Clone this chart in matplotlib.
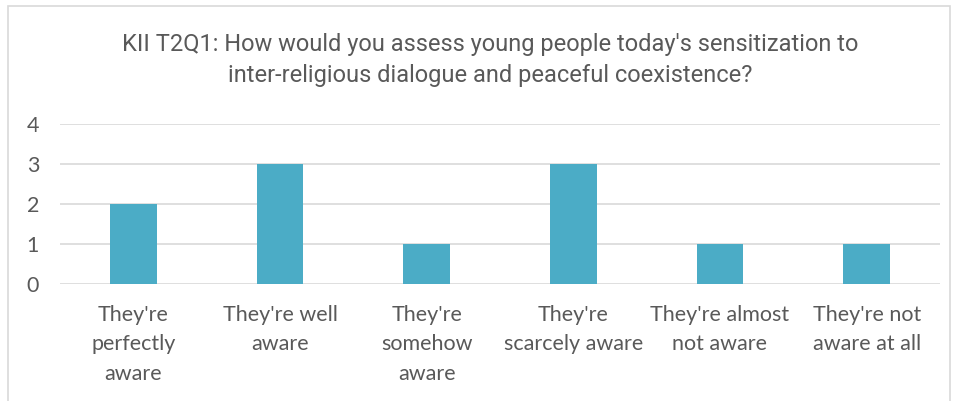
import matplotlib
matplotlib.use("Agg")
import matplotlib.pyplot as plt
from matplotlib.patches import Rectangle

categories = [
    "They're\nperfectly\naware",
    "They're well\naware",
    "They're\nsomehow\naware",
    "They're\nscarcely aware",
    "They're almost\nnot aware",
    "They're not\naware at all",
]
counts = [2, 3, 1, 3, 1, 1]
yticks = [0, 1, 2, 3, 4]
title = ("KII T2Q1: How would you assess young people today's sensitization to\n"
         "inter-religious dialogue and peaceful coexistence?")

W, H = 956, 401
fig = plt.figure(figsize=(W / 100, H / 100), dpi=100)
fig.patch.set_facecolor("white")

# chart frame
fig.patches.append(Rectangle((8 / W, -0.05), (950 - 8) / W, 1.05 - 6 / H,
                             transform=fig.transFigure, fill=False,
                             edgecolor="#D9D9D9", linewidth=1.2))

ax = fig.add_axes([60 / W, (H - 284) / H, 880 / W, 160 / H])
x = range(len(categories))
ax.bar(x, counts, width=0.32, color="#4BACC6", zorder=3)
ax.set_xlim(-0.5, len(categories) - 0.5)
ax.set_ylim(0, 4)
ax.set_yticks(yticks)
ax.set_yticklabels([str(v) for v in yticks])
ax.set_xticks(list(x))
ax.set_xticklabels(categories, linespacing=1.6)
for s in ax.spines.values():
    s.set_visible(False)
ax.grid(axis="y", color="#D9D9D9", linewidth=1.2, zorder=0)
ax.tick_params(length=0, colors="#595959", labelsize=15.5)
ax.tick_params(axis="y", pad=15)
ax.tick_params(axis="x", pad=15)
for t in ax.get_xticklabels() + ax.get_yticklabels():
    t.set_family(["Lato", "DejaVu Sans"])
    t.set_color("#595959")

fig.text(490 / W, 1 - 60 / H, title, ha="center", va="center",
         fontsize=17, color="#595959", linespacing=1.4,
         family=["Roboto", "DejaVu Sans"])

fig.savefig("out.png", dpi=100)
